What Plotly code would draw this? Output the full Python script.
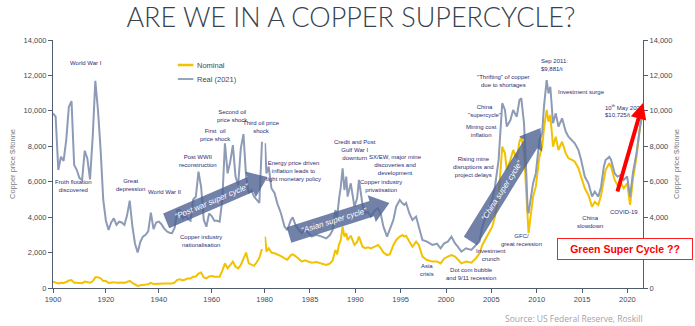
import math
import plotly.graph_objects as go

# ---------------- data ----------------
hist_years = list(range(1900, 1980))
hist_real = [9850, 9670, 6660, 7410, 7170, 8350, 10230, 10550, 6940, 6660,
             6200, 6100, 7750, 7300, 6130, 8500, 11700, 10050, 7800, 4970,
             3800, 3280, 3700, 3930, 3560, 3740, 3700, 3560, 4100, 4930,
             3500, 2500, 2000, 2600, 2900, 3000, 3200, 4250, 3330, 3700,
             3750, 3600, 3370, 3200, 3120, 3100, 3400, 4400, 4400, 3900,
             4100, 3900, 3800, 5000, 5150, 6570, 5700, 3840, 3460, 4200,
             4060, 3800, 3800, 3750, 4970, 8170, 6470, 7130, 8070, 6290,
             5820, 7880, 8690, 6290, 5350, 5530, 5160, 4970, 4800, 8260]
hist_nominal = [360, 330, 260, 300, 280, 340, 420, 450, 290, 290,
                285, 275, 360, 340, 295, 380, 600, 600, 550, 400,
                390, 280, 300, 330, 290, 320, 310, 290, 330, 400,
                290, 180, 120, 150, 190, 190, 210, 290, 220, 240,
                250, 260, 260, 260, 260, 260, 310, 460, 490, 430,
                480, 540, 540, 640, 650, 820, 880, 600, 540, 650,
                670, 630, 640, 640, 970, 1390, 1110, 1300, 1490, 1200,
                1110, 1300, 1670, 2000, 1390, 1300, 1250, 1450, 1700, 2200]

modern_years = [1980.05, 1980.2, 1980.45, 1980.75, 1981.1, 1981.4, 1981.8, 1982.2, 1982.5, 1982.9,
                1983.1, 1983.4, 1983.8, 1984.1, 1984.4, 1984.7, 1985.2, 1985.7, 1986.3, 1986.8,
                1987.2, 1987.5, 1987.8, 1988.0, 1988.2, 1988.4, 1988.6, 1988.8, 1989.0, 1989.15,
                1989.5, 1989.9, 1990.2, 1990.4, 1990.8, 1991.1, 1991.4, 1991.7, 1992.2, 1992.5,
                1992.8, 1993.1, 1993.5, 1993.8, 1994.2, 1994.5, 1994.9, 1995.2, 1995.4, 1995.6,
                1995.95, 1996.3, 1996.7, 1997.0, 1997.4, 1997.9, 1998.5, 1999.0, 1999.4, 1999.8,
                2000.2, 2000.6, 2001.0, 2001.3, 2001.7, 2002.2, 2002.8, 2003.3, 2003.7, 2004.0,
                2004.5, 2005.1, 2005.4, 2005.8, 2006.2, 2006.5, 2006.7, 2007.1, 2007.4, 2007.8,
                2008.1, 2008.3, 2008.6, 2008.85, 2009.0, 2009.1, 2009.6, 2009.9, 2010.3, 2010.6,
                2010.8, 2011.1, 2011.3, 2011.5, 2011.8, 2012.1, 2012.4, 2012.8, 2013.2, 2013.5,
                2013.9, 2014.2, 2014.6, 2014.9, 2015.3, 2015.7, 2016.1, 2016.4, 2016.8, 2017.1,
                2017.4, 2017.6, 2018.0, 2018.2, 2018.6, 2018.9, 2019.3, 2019.6, 2019.97, 2020.3,
                2020.6, 2021.0, 2021.4, 2021.6]
modern_real = [8170, 6470, 6850, 5630, 5350, 4780, 4220, 3460, 3270, 3840,
               3990, 3560, 3270, 3090, 3300, 3180, 2900, 3000, 2900, 2800,
               2990, 3270, 4400, 4030, 5000, 5720, 6750, 5530, 6290, 5160,
               5910, 4590, 5060, 6100, 4690, 4220, 4300, 4030, 4400, 4500,
               4200, 3460, 2900, 3270, 3840, 4590, 4970, 4780, 4690, 4800,
               4220, 3840, 4030, 3460, 2710, 2620, 2430, 2500, 2240, 2520,
               2620, 2900, 2520, 2330, 2050, 2240, 2150, 2430, 2620, 3460,
               4220, 4970, 5720, 7230, 10430, 10050, 9110, 9480, 10050, 9670,
               10610, 10710, 9300, 6470, 4400, 4220, 5910, 6470, 8360, 8730,
               10240, 11740, 10990, 11360, 9300, 9860, 9110, 9580, 8830, 8540,
               8360, 8170, 7790, 7230, 6290, 5910, 5160, 5440, 5160, 5720,
               6850, 7230, 7410, 7230, 6470, 6290, 6380, 6100, 6300, 5160,
               6470, 7600, 9110, 9700]
modern_nominal = [2900, 2050, 2240, 2000, 1960, 1900, 1800, 1670, 1600, 1860,
                  1900, 1800, 1650, 1490, 1560, 1500, 1430, 1470, 1360, 1300,
                  1380, 1550, 2150, 1900, 2450, 2710, 3460, 2900, 3100, 2700,
                  2950, 2430, 2600, 2900, 2330, 2250, 2300, 2240, 2350, 2430,
                  2250, 2000, 1860, 1900, 2430, 2700, 2900, 2990, 2900, 2950,
                  2620, 2330, 2620, 2430, 1770, 1580, 1490, 1500, 1390, 1670,
                  1770, 1860, 1770, 1580, 1390, 1490, 1430, 1670, 1960, 2430,
                  2900, 3460, 4030, 5160, 7980, 7600, 6660, 7230, 7790, 7320,
                  8260, 8540, 7700, 5200, 3300, 3100, 5160, 5720, 7410, 7980,
                  9000, 10050, 9390, 9770, 7980, 8540, 7790, 8260, 7600, 7320,
                  7230, 7130, 6760, 6290, 5630, 5250, 4590, 4870, 4690, 5250,
                  6190, 6660, 7040, 6850, 6100, 5820, 5910, 5630, 5910, 4690,
                  6100, 7410, 9110, 9650]

left_ticks = [1900, 1920, 1940, 1960]
right_ticks = [1980, 1985, 1990, 1995, 2000, 2005, 2010, 2015, 2020]
y_ticks = [0, 2000, 4000, 6000, 8000, 10000, 12000, 14000]
series_names = ["Nominal", "Real (2021)"]

# ---------------- styling ----------------
W, H = 695, 326
L, R, T, B = 38, 52, 40, 38
PW, PH = W - L - R, H - T - B
SPLIT = 217 / PW

REAL_C = "#8d9bb6"
NOM_C = "#f2c200"
AX_C = "#4f5d6e"
TXT_C = "#3c4a5a"
NOTE_C = "#2a2d73"
FONT = "Liberation Sans, Arial, sans-serif"


def pp(x, y):
    return (x - L) / PW, (H - B - y) / PH


fig = go.Figure()
fig.add_trace(go.Scatter(x=hist_years, y=hist_nominal, mode="lines", name=series_names[0],
                         line=dict(color=NOM_C, width=2), xaxis="x", yaxis="y"))
fig.add_trace(go.Scatter(x=hist_years, y=hist_real, mode="lines", name=series_names[1],
                         line=dict(color=REAL_C, width=2), xaxis="x", yaxis="y"))
fig.add_trace(go.Scatter(x=modern_years, y=modern_nominal, mode="lines", name=series_names[0],
                         line=dict(color=NOM_C, width=2), xaxis="x2", yaxis="y2"))
fig.add_trace(go.Scatter(x=modern_years, y=modern_real, mode="lines", name=series_names[1],
                         line=dict(color=REAL_C, width=2), xaxis="x2", yaxis="y2"))

axis_common = dict(showline=True, linecolor=AX_C, linewidth=1, ticks="outside",
                   ticklen=4, tickcolor=AX_C, showgrid=False, zeroline=False,
                   tickfont=dict(family=FONT, size=7.5, color=TXT_C), fixedrange=True)

shapes = []
annotations = []

# custom legend
for name, col, ly in [(series_names[0], NOM_C, 65), (series_names[1], REAL_C, 79)]:
    x0p, yp = pp(166, ly)
    x1p, _ = pp(182, ly)
    shapes.append(dict(type="line", xref="paper", yref="paper", x0=x0p, x1=x1p, y0=yp, y1=yp,
                       line=dict(color=col, width=2.5 if col == NOM_C else 1.8)))
    tx_, _ = pp(184, ly)
    annotations.append(dict(text=name, x=tx_, y=yp, xref="paper", yref="paper", showarrow=False,
                            xanchor="left", yanchor="middle",
                            font=dict(family=FONT, size=7.5, color=TXT_C)))


def block_arrow(x0, y0, x1, y1, hw, hhw, hl):
    dx, dy = x1 - x0, y1 - y0
    ln = math.hypot(dx, dy)
    ux, uy = dx / ln, dy / ln
    nx, ny = -uy, ux
    bx, by = x1 - ux * hl, y1 - uy * hl
    pts = [(x0 + nx * hw, y0 + ny * hw), (bx + nx * hw, by + ny * hw),
           (bx + nx * hhw, by + ny * hhw), (x1, y1),
           (bx - nx * hhw, by - ny * hhw), (bx - nx * hw, by - ny * hw),
           (x0 - nx * hw, y0 - ny * hw)]
    path = "M " + " L ".join("%.4f,%.4f" % pp(px, py) for px, py in pts) + " Z"
    shapes.append(dict(type="path", path=path, xref="paper", yref="paper",
                       fillcolor="rgba(78,98,145,0.8)", line=dict(width=0)))
    return math.degrees(math.atan2(dy, dx))


arrows = [("\u201cPost war super cycle\u201d", 154, 221, 258, 177),
          ("\u201cAsian super cycle\u201d", 280, 235, 383, 203),
          ("\u201cChina super cycle\u201d", 466, 241, 538, 128)]
for txt, x0, y0, x1, y1 in arrows:
    ang = block_arrow(x0, y0, x1, y1, 8, 14, 19)
    cx = x0 + (x1 - x0) * 0.45
    cy = y0 + (y1 - y0) * 0.45
    px_, py_ = pp(cx, cy)
    annotations.append(dict(text="<i>%s</i>" % txt, x=px_, y=py_, xref="paper", yref="paper",
                            showarrow=False, textangle=ang, xanchor="center", yanchor="middle",
                            font=dict(family=FONT, size=8, color="white")))

notes = [("World War I", 72, 63), ("Froth flotation<br>discovered", 59, 186),
         ("Great<br>depression", 117, 185), ("World War II", 152, 192),
         ("Copper industry<br>nationalisation", 190, 241), ("Post WWII<br>reconstruction", 187, 161),
         ("First  oil<br>price shock", 205, 135), ("Second oil<br>price shock", 222, 116),
         ("Third oil price<br>shock", 252, 127),
         ("Energy price driven<br>inflation leads to<br>tight monetary policy", 285, 171),
         ("Credit and Post<br>Gulf War I<br>downturn", 348, 150),
         ("SX/EW, major mine<br>discoveries and<br>development", 389, 165),
         ("Copper industry<br>privatisation", 374, 186),
         ("Rising mine<br>disruptions and<br>project delays", 469, 167),
         ("China<br>\"supercycle\"", 480, 111), ("Mining cost<br>inflation", 477, 131),
         ("\"Thrifting\" of copper<br>due to shortages", 500, 81),
         ("Asia<br>crisis", 422, 270), ("Dot com bubble<br>and 9/11 recession", 467, 274),
         ("Investment<br>crunch", 487, 255), ("GFC/<br>great recession", 518, 240),
         ("China<br>slowdown", 589, 222), ("COVID-19", 624, 212), ("Investment surge", 580, 92)]
for txt, cx, cy in notes:
    px_, py_ = pp(cx, cy)
    annotations.append(dict(text=txt, x=px_, y=py_, xref="paper", yref="paper", showarrow=False,
                            xanchor="center", yanchor="middle", align="center",
                            font=dict(family=FONT, size=6, color=NOTE_C)))
for txt, lx, cy in [("Sep 2011:<br>$9,881/t", 536, 65),
                    ("10<sup>th</sup> May 2021:<br>$10,725/t", 602, 110)]:
    px_, py_ = pp(lx, cy)
    annotations.append(dict(text=txt, x=px_, y=py_, xref="paper", yref="paper", showarrow=False,
                            xanchor="left", yanchor="middle", align="left",
                            font=dict(family=FONT, size=6, color=NOTE_C)))

# red arrow
tx, ty = pp(643, 103)
annotations.append(dict(text="", x=tx, y=ty, xref="paper", yref="paper", showarrow=True,
                        ax=-26, ay=90, arrowcolor="#ff0000", arrowwidth=4, arrowhead=2,
                        arrowsize=0.8))
# green super cycle box
gx, gy = pp(625, 249)
annotations.append(dict(text="<b>Green Super Cycle ??</b>", x=gx, y=gy, xref="paper", yref="paper",
                        showarrow=False, xanchor="center", yanchor="middle",
                        bgcolor="white", bordercolor="#ff2020", borderwidth=1, borderpad=3,
                        width=128, height=14,
                        font=dict(family=FONT, size=10.5, color="#ff0000")))
# source
sx, sy = pp(645, 318)
annotations.append(dict(text="Source: US Federal Reserve, Roskill", x=sx, y=sy, xref="paper",
                        yref="paper", showarrow=False, xanchor="right", yanchor="middle",
                        font=dict(family="Open Sans, sans-serif", size=8.5, color="#a3a3a3")))

fig.update_layout(
    width=W, height=H, margin=dict(l=L, r=R, t=T, b=B),
    paper_bgcolor="white", plot_bgcolor="white", showlegend=False,
    title=dict(text="ARE WE IN A COPPER SUPERCYCLE?", x=0.505, xanchor="center",
               y=(H - 18) / H, yanchor="middle", yref="container",
               font=dict(family="Lato, Open Sans, sans-serif", size=27, color="#36424d", weight=300)),
    xaxis=dict(domain=[0, SPLIT], range=[1900, 1980], tickvals=left_ticks, anchor="y", **axis_common),
    xaxis2=dict(domain=[SPLIT, 1], range=[1980, 2021.72], tickvals=right_ticks, anchor="y2",
                **axis_common),
    yaxis=dict(range=[0, 14000], tickvals=y_ticks, tickformat=",", anchor="x",
               title=dict(text="Copper price $/tonne", standoff=6,
                          font=dict(family=FONT, size=7.5, color="#7a7a7a")),
               **axis_common),
    yaxis2=dict(range=[0, 14000], tickvals=y_ticks, tickformat=",", overlaying="y", side="right",
                anchor="x2",
                title=dict(text="Copper price $/tonne", standoff=2,
                           font=dict(family=FONT, size=7.5, color="#7a7a7a")),
                **axis_common),
    shapes=shapes, annotations=annotations,
)

fig.write_html("out.html")
